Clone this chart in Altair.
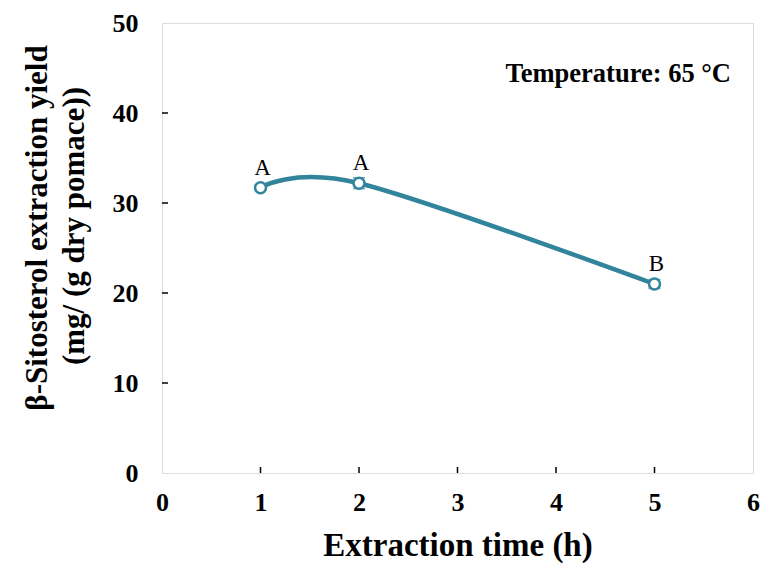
import altair as alt
import pandas as pd

# Extraction yield of beta-sitosterol at 65 °C
hours = [1, 2, 5]
yield_mg = [31.7, 32.2, 21.0]
yield_err = [0.3, 0.6, 0.5]
groups = ["A", "A", "B"]
x_ticks = [1, 2, 3, 4, 5]
y_ticks = [10, 20, 30, 40]
y_title = ["β-Sitosterol extraction yield", "(mg/ (g dry pomace))"]

df = pd.DataFrame({"h": hours, "y": yield_mg, "err": yield_err, "g": groups})
df["lo"] = df["y"] - df["err"]
df["hi"] = df["y"] + df["err"]

W, H = 591, 450
TEAL = "#31849B"
FONT = "Liberation Serif"

xs = alt.Scale(domain=[0, 6], nice=False)
ys = alt.Scale(domain=[0, 50], nice=False)

x_axis = alt.Axis(values=[0, 1, 2, 3, 4, 5, 6], ticks=False, labelPadding=16,
                  labelFont=FONT, labelFontSize=26, labelFontWeight="bold",
                  labelColor="black", labelFlush=False, title="Extraction time (h)",
                  titleFont=FONT, titleFontSize=33, titleFontWeight="bold",
                  titleColor="black", titlePadding=14, grid=False, domain=False,
                  format="d")
y_axis = alt.Axis(values=[0, 10, 20, 30, 40, 50], ticks=False, labelPadding=24,
                  labelFont=FONT, labelFontSize=26, labelFontWeight="bold",
                  labelColor="black", labelFlush=False, title=None, grid=False,
                  domain=False, format="d")

base = alt.Chart(df)

line = base.mark_line(interpolate="cardinal", color=TEAL, strokeWidth=4.5).encode(
    x=alt.X("h:Q", scale=xs, axis=x_axis),
    y=alt.Y("y:Q", scale=ys, axis=y_axis),
)

err = base.mark_errorbar(ticks=alt.MarkConfig(size=12, color=TEAL, strokeWidth=1.5),
                         color=TEAL, thickness=1.5).encode(
    x="h:Q", y=alt.Y("lo:Q", scale=ys, title=None), y2="hi:Q"
)

pts = base.mark_point(shape="circle", size=120, filled=True, fill="white",
                      stroke=TEAL, strokeWidth=2.5, opacity=1).encode(
    x="h:Q", y=alt.Y("y:Q", title=None)
)

letters = base.mark_text(font=FONT, fontSize=23, color="black", dx=2, dy=-20).encode(
    x="h:Q", y=alt.Y("y:Q", title=None), text="g:N"
)

xt = alt.Chart(pd.DataFrame({"t": x_ticks})).mark_rule(color="black", strokeWidth=1.5).encode(
    x=alt.X("t:Q", scale=xs), y=alt.value(H), y2=alt.value(H - 6)
)
yt = alt.Chart(pd.DataFrame({"t": y_ticks})).mark_rule(color="black", strokeWidth=1.5).encode(
    y=alt.Y("t:Q", scale=ys, title=None), x=alt.value(0), x2=alt.value(6)
)

note = alt.Chart(pd.DataFrame({"s": ["Temperature: 65 °C"]})).mark_text(
    font=FONT, fontSize=26.5, fontWeight="bold", color="black", align="right", baseline="middle"
).encode(x=alt.value(W - 22), y=alt.value(51), text="s:N")

# Two-line rotated y-axis title
ytitle1 = alt.Chart(pd.DataFrame({"s": [y_title[0]]})).mark_text(
    font=FONT, fontSize=31, fontWeight="bold", color="black", angle=270,
    align="center", baseline="middle"
).encode(x=alt.value(-124), y=alt.value(205), text="s:N")
ytitle2 = alt.Chart(pd.DataFrame({"s": [y_title[1]]})).mark_text(
    font=FONT, fontSize=31, fontWeight="bold", color="black", angle=270,
    align="center", baseline="middle"
).encode(x=alt.value(-87), y=alt.value(203), text="s:N")

chart = alt.layer(line, err, pts, letters, xt, yt, note, ytitle1, ytitle2).properties(
    width=W, height=H,
    autosize=alt.AutoSizeParams(type="none"),
    padding={"left": 162, "top": 23, "right": 13, "bottom": 104},
).configure_view(stroke="black", strokeWidth=1.5).configure(background="white")

chart.save("out.html", embed_options={"renderer": "svg", "actions": False})
